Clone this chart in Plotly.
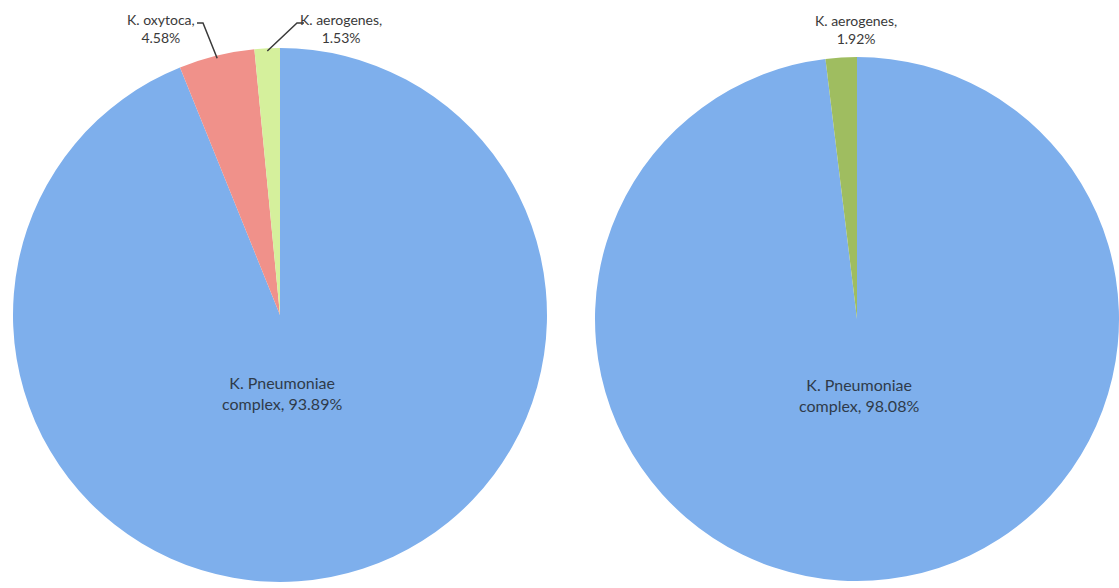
import math
import plotly.graph_objects as go

W, H = 1119, 588

# Species share of isolates in each collection (percent)
left_labels = ["K. Pneumoniae complex", "K. oxytoca", "K. aerogenes"]
left_values = [93.89, 4.58, 1.53]
right_labels = ["K. Pneumoniae complex", "K. aerogenes"]
right_values = [98.08, 1.92]

left_colors = ["#7eafec", "#f0918a", "#d5f09c"]
right_colors = ["#7eafec", "#9fbd60"]

FONT_SMALL = dict(family="Lato, 'Open Sans', sans-serif", size=14, color="#3a3a3a")
FONT_MAIN = dict(family="Lato, 'Open Sans', sans-serif", size=16, color="#2f3b4a")


def fx(px):
    return px / W


def fy(py):
    return 1 - py / H


# Pie placement in pixels: centre x, centre y, radius
LEFT_PIE = (280, 315, 267)
RIGHT_PIE = (857, 319, 262)


def domain(cx, cy, r):
    return dict(x=[fx(cx - r), fx(cx + r)], y=[fy(cy + r), fy(cy - r)])


fig = go.Figure()
fig.add_trace(go.Pie(
    labels=left_labels, values=left_values, sort=False,
    direction="clockwise", rotation=0,
    marker=dict(colors=left_colors, line=dict(width=0)),
    textinfo="none", hoverinfo="label+percent",
    domain=domain(*LEFT_PIE), showlegend=False,
))
fig.add_trace(go.Pie(
    labels=right_labels, values=right_values, sort=False,
    direction="clockwise", rotation=0,
    marker=dict(colors=right_colors, line=dict(width=0)),
    textinfo="none", hoverinfo="label+percent",
    domain=domain(*RIGHT_PIE), showlegend=False,
))


def mid_point(values, idx, pie, frac=1.0):
    """Pixel position on the radius through the middle of slice idx."""
    cx, cy, r = pie
    total = sum(values)
    start = sum(values[:idx])
    ang = 2 * math.pi * (start + values[idx] / 2) / total
    return cx + frac * r * math.sin(ang), cy - frac * r * math.cos(ang)


def pct(v):
    return f"{v:.2f}%"


annotations = []
shapes = []

# Main slice labels inside the pies
for pie, labels, values, ty in [(LEFT_PIE, left_labels, left_values, 393),
                                (RIGHT_PIE, right_labels, right_values, 395)]:
    name = labels[0].replace(" complex", "")
    annotations.append(dict(
        x=fx(pie[0] + 2), y=fy(ty), xref="paper", yref="paper",
        text=f"{name}<br>complex, {pct(values[0])}",
        showarrow=False, font=FONT_MAIN, align="center",
        xanchor="center", yanchor="middle",
    ))

# Small slice labels above the left pie with elbow leader lines
left_small = [
    (1, 161, 197, 203),   # label centre x, elbow start x, elbow end x
    (2, 341, 304, 297),
]
for idx, lx, ex0, ex1 in left_small:
    annotations.append(dict(
        x=fx(lx), y=fy(28), xref="paper", yref="paper",
        text=f"{left_labels[idx]},<br>{pct(left_values[idx])}",
        showarrow=False, font=FONT_SMALL, align="center",
        xanchor="center", yanchor="middle",
    ))
    px, py = mid_point(left_values, idx, LEFT_PIE, 0.99)
    shapes.append(dict(
        type="path", xref="paper", yref="paper",
        path=f"M {fx(ex0)} {fy(23)} L {fx(ex1)} {fy(23)} L {fx(px)} {fy(py)}",
        line=dict(color="#3a3a3a", width=1.5),
    ))

# Small slice label above the right pie
annotations.append(dict(
    x=fx(856), y=fy(29), xref="paper", yref="paper",
    text=f"{right_labels[1]},<br>{pct(right_values[1])}",
    showarrow=False, font=FONT_SMALL, align="center",
    xanchor="center", yanchor="middle",
))

fig.update_layout(
    width=W, height=H,
    margin=dict(l=0, r=0, t=0, b=0),
    paper_bgcolor="white", plot_bgcolor="white",
    annotations=annotations, shapes=shapes,
)

fig.write_html("out.html")
